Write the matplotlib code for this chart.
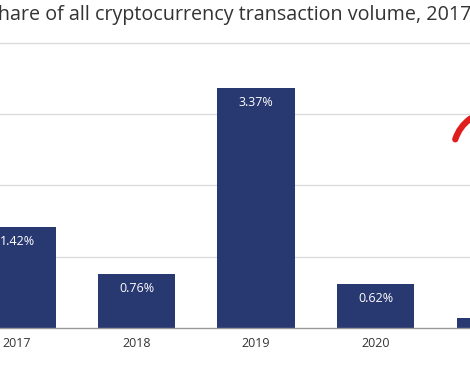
import matplotlib.pyplot as plt

plt.rcParams["font.family"] = ["Open Sans", "DejaVu Sans"]
plt.rcParams["savefig.bbox"] = "standard"

years = ["2017", "2018", "2019", "2020", "2021"]
share = [1.42, 0.76, 3.37, 0.62, 0.14]
labels = ["1.42%", "0.76%", "3.37%", "0.62%", "0.14%"]

bar_color = "#283870"

fig = plt.figure(figsize=(4.7, 3.89), dpi=100)
ax = fig.add_axes([0, 61 / 389, 1, 328 / 389])

x = range(len(years))
bars = ax.bar(x, share, width=0.645, color=bar_color, zorder=3)

for b, lab in zip(bars, labels):
    ax.text(b.get_x() + b.get_width() / 2, b.get_height() - 0.11, lab,
            ha="center", va="top", color="white", fontsize=9, zorder=4)

ax.set_yticks([1, 2, 3, 4])
ax.yaxis.grid(True, color="#dcdcdc", linewidth=1, zorder=0)
ax.set_yticklabels([])
ax.tick_params(axis="y", length=0)
ax.set_xticks(list(x))
ax.set_xticklabels(years, fontsize=9, color="#333333")
ax.tick_params(axis="x", length=0, pad=6.5)
# limits after the ticks so the view is not widened
ax.set_xlim(-0.142, 3.79)
ax.set_ylim(0, 4.6)
for s in ["top", "right", "left"]:
    ax.spines[s].set_visible(False)
ax.spines["bottom"].set_color("#9a9a9a")
ax.spines["bottom"].set_linewidth(1)
ax.spines["bottom"].set_zorder(5)

fig.text(-0.027, 1 - 20 / 389,
         "Share of all cryptocurrency transaction volume, 2017\u20132021",
         ha="left", va="baseline", fontsize=14.2, color="#333333")

# red hand-drawn mark at the right edge
ax.annotate("", xy=(1.006, 1 - 117 / 389), xycoords="figure fraction",
            xytext=(0.967, 1 - 142 / 389), textcoords="figure fraction",
            arrowprops=dict(arrowstyle="-", color="#e01c1c", lw=4.5,
                            capstyle="round",
                            connectionstyle="arc3,rad=-0.2"))

fig.savefig("out.png", dpi=100)
